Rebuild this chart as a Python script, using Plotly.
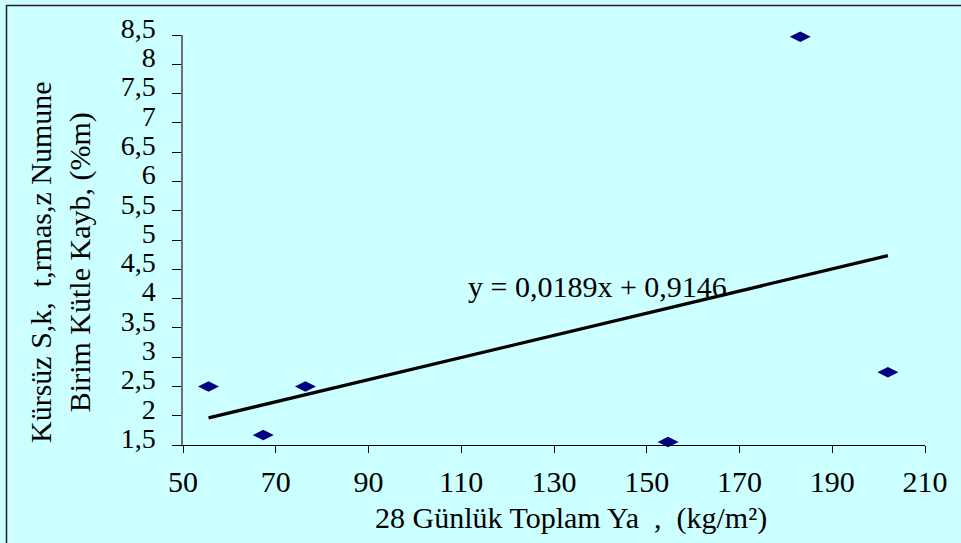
import plotly.graph_objects as go

# Measured samples: 28-day total precipitation vs. mass loss of unprotected specimens
rain_kg_m2 = [55.5, 67.3, 76.4, 154.6, 183.1, 202.0]
mass_loss_pct = [2.5, 1.67, 2.5, 1.55, 8.47, 2.74]

# Linear trend line coefficients (shown in the equation label)
slope = 0.0189
intercept = 0.9146

x_ticks = [50, 70, 90, 110, 130, 150, 170, 190, 210]
y_ticks = [1.5, 2, 2.5, 3, 3.5, 4, 4.5, 5, 5.5, 6, 6.5, 7, 7.5, 8, 8.5]
y_tick_text = [("%g" % v).replace(".", ",") for v in y_ticks]

FONT = "'Times New Roman', 'Liberation Serif', Tinos, 'DejaVu Serif', serif"
FS = 30
BG = "#CCFFFF"

trend_x = [min(rain_kg_m2), max(rain_kg_m2)]
trend_y = [slope * v + intercept for v in trend_x]

fig = go.Figure()
fig.add_trace(go.Scatter(
    x=trend_x, y=trend_y, mode="lines",
    line=dict(color="black", width=3.2),
    hoverinfo="skip", showlegend=False,
))
fig.add_trace(go.Scatter(
    x=rain_kg_m2, y=mass_loss_pct, mode="markers",
    marker=dict(symbol="diamond-wide", size=15, color="#000080",
                line=dict(width=0)),
    cliponaxis=False,
    showlegend=False,
))

W, H = 961, 543
L, R, T, B = 183, 36, 35, 98
pw, ph = W - L - R, H - T - B


def px_x(p):
    return (p - L) / pw


def px_y(p):
    return (H - B - p) / ph


eq_text = "y = " + ("%.4f" % slope).replace(".", ",") + "x + " + ("%.4f" % intercept).replace(".", ",")

fig.update_layout(
    width=W, height=H,
    margin=dict(l=L, r=R, t=T, b=B),
    paper_bgcolor=BG, plot_bgcolor=BG,
    font=dict(family=FONT, size=FS, color="black"),
    xaxis=dict(
        range=[50, 210], tickvals=x_ticks, ticktext=[str(v) for v in x_ticks],
        showgrid=False, zeroline=False,
        showline=True, linecolor="black", linewidth=1,
        ticks="outside", ticklen=7, tickcolor="black", tickwidth=1,
        tickfont=dict(family=FONT, size=FS),
        ticklabelstandoff=3,
    ),
    yaxis=dict(
        range=[1.5, 8.5], tickvals=y_ticks, ticktext=y_tick_text,
        showgrid=False, zeroline=False,
        showline=True, linecolor="#707070", linewidth=1.5,
        ticks="outside", ticklen=9, tickcolor="black", tickwidth=1,
        tickfont=dict(family=FONT, size=28),
        ticklabelstandoff=11, ticklabelshift=-7,
    ),
    annotations=[
        dict(text=eq_text, x=139.3, y=4.2, xref="x", yref="y",
             showarrow=False, font=dict(family=FONT, size=FS),
             xanchor="center", yanchor="middle"),
        dict(text="28 Günlük Toplam Ya  ,  (kg/m²)",
             x=px_x(571), y=px_y(518), xref="paper", yref="paper",
             showarrow=False, font=dict(family=FONT, size=FS),
             xanchor="center", yanchor="middle"),
        dict(text="Kürsüz S,k,  t,rmas,z Numune<br>Birim Kütle Kayb, (%m)",
             x=px_x(60), y=px_y(262), xref="paper", yref="paper",
             textangle=-90, showarrow=False, font=dict(family=FONT, size=FS),
             xanchor="center", yanchor="middle", align="center"),
    ],
    shapes=[
        dict(type="rect", xref="paper", yref="paper",
             x0=px_x(6.5), x1=px_x(970), y0=px_y(5.5), y1=px_y(560),
             line=dict(color="#202020", width=1.5), fillcolor="rgba(0,0,0,0)",
             layer="below"),
    ],
)

fig.write_html("out.html")
